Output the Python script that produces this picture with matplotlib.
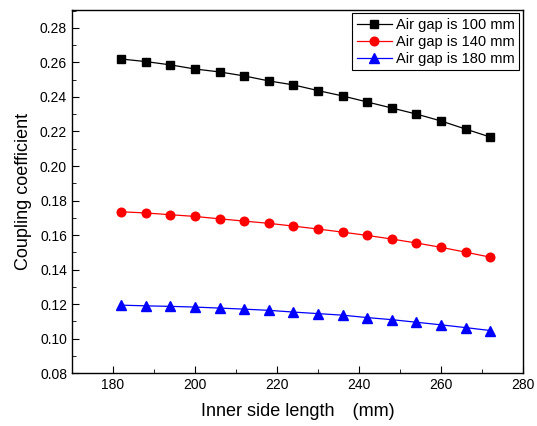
import numpy as np
import matplotlib.pyplot as plt
from matplotlib.ticker import MultipleLocator

plt.rcParams['font.family'] = ['Liberation Sans', 'Noto Sans CJK SC', 'DejaVu Sans']

# inner side length (mm)
side_len = [182, 188, 194, 200, 206, 212, 218, 224, 230, 236, 242, 248, 254, 260, 266, 272]

k_100 = [0.2620, 0.2605, 0.2586, 0.2562, 0.2545, 0.2522, 0.2493, 0.2470,
         0.2437, 0.2406, 0.2371, 0.2336, 0.2301, 0.2261, 0.2214, 0.2168]
k_140 = [0.1735, 0.1728, 0.1718, 0.1708, 0.1694, 0.1681, 0.1668, 0.1652,
         0.1635, 0.1617, 0.1598, 0.1577, 0.1554, 0.1529, 0.1501, 0.1472]
k_180 = [0.1194, 0.1190, 0.1187, 0.1183, 0.1177, 0.1171, 0.1164, 0.1154,
         0.1145, 0.1136, 0.1122, 0.1110, 0.1095, 0.1080, 0.1064, 0.1047]

fig = plt.figure(figsize=(5.37, 4.26), dpi=100)
ax = fig.add_axes([0.134, 0.124, 0.840, 0.853])

ax.plot(side_len, k_100, 'k-', marker='s', ms=5.8, lw=0.9, label='Air gap is 100 mm')
ax.plot(side_len, k_140, color='red', marker='o', ms=6.2, lw=0.9, label='Air gap is 140 mm')
ax.plot(side_len, k_180, color='blue', marker='^', ms=6.5, lw=0.9, label='Air gap is 180 mm')

ax.set_xlim(170, 280)
ax.set_ylim(0.08, 0.2905)
ax.xaxis.set_major_locator(MultipleLocator(20))
ax.xaxis.set_minor_locator(MultipleLocator(10))
ax.yaxis.set_minor_locator(MultipleLocator(0.01))
ax.tick_params(which='both', direction='in', top=False, right=False, labelsize=10)
ax.tick_params(which='major', length=5)
ax.tick_params(which='minor', length=3)
ax.set_yticks(np.arange(0.08, 0.2801, 0.02))
ax.set_yticklabels([f'{v:.2f}' for v in np.arange(0.08, 0.2801, 0.02)])
for s in ax.spines.values():
    s.set_linewidth(1.0)

ax.set_xlabel('Inner side length\u3000(mm)', fontsize=13, labelpad=8)
ax.set_ylabel('Coupling coefficient', fontsize=13, labelpad=6)

leg = ax.legend(loc='upper right', fontsize=10.5, fancybox=False, edgecolor='black',
                framealpha=1, borderpad=0.3, labelspacing=0.2, handlelength=2.4,
                handletextpad=0.3, borderaxespad=0.25)
leg.get_frame().set_linewidth(0.8)

fig.savefig('out.png', dpi=100)
